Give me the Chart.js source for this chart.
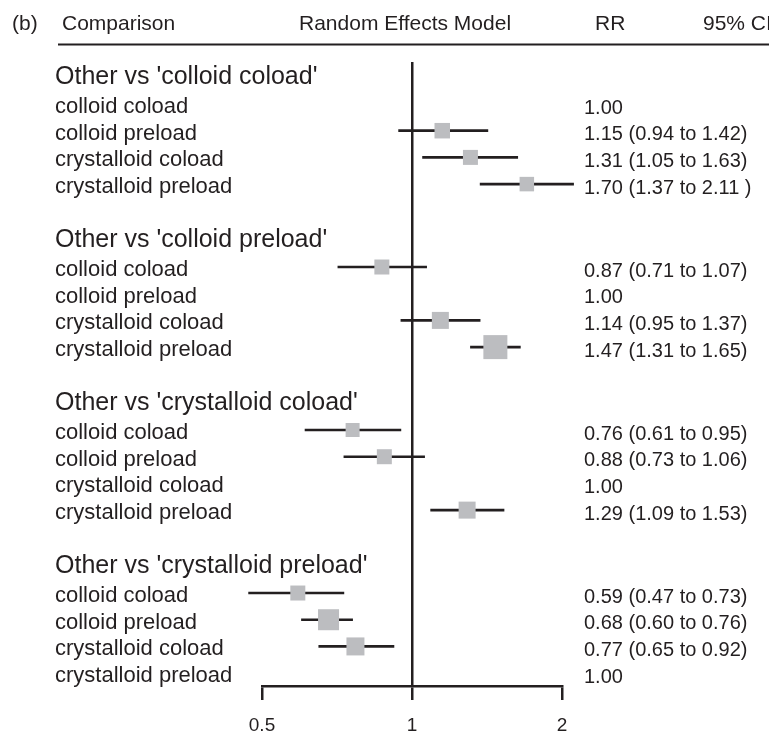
<!DOCTYPE html>
<html>
<head>
<meta charset="utf-8">
<script src="https://cdn.jsdelivr.net/npm/chart.js@4.4.1/dist/chart.umd.min.js"></script>
<style>
  html, body { margin: 0; padding: 0; background: #fff; }
  #wrap { width: 769px; height: 736px; position: relative; }
</style>
</head>
<body>
<div id="wrap"><canvas id="forest"></canvas></div>
<script>
// DATOS
const groups = ["Other vs 'colloid coload'", "Other vs 'colloid preload'",
                "Other vs 'crystalloid coload'", "Other vs 'crystalloid preload'"];
const treatments = ['colloid coload', 'colloid preload', 'crystalloid coload', 'crystalloid preload'];
const rr = [
  [1.00, 1.15, 1.31, 1.70],
  [0.87, 1.00, 1.14, 1.47],
  [0.76, 0.88, 1.00, 1.29],
  [0.59, 0.68, 0.77, 1.00]
];
const lower = [
  [null, 0.94, 1.05, 1.37],
  [0.71, null, 0.95, 1.31],
  [0.61, 0.73, null, 1.09],
  [0.47, 0.60, 0.65, null]
];
const upper = [
  [null, 1.42, 1.63, 2.11],
  [1.07, null, 1.37, 1.65],
  [0.95, 1.06, null, 1.53],
  [0.73, 0.76, 0.92, null]
];
// peso relativo de cada estudio (tamaño del cuadrado)
const weights = [
  [0, 15.5, 15, 14.5],
  [15, 0, 17, 24],
  [14, 15, 0, 17],
  [15, 21, 18, 0]
];
const ciText = [
  ['1.00', '1.15 (0.94 to 1.42)', '1.31 (1.05 to 1.63)', '1.70 (1.37 to 2.11 )'],
  ['0.87 (0.71 to 1.07)', '1.00', '1.14 (0.95 to 1.37)', '1.47 (1.31 to 1.65)'],
  ['0.76 (0.61 to 0.95)', '0.88 (0.73 to 1.06)', '1.00', '1.29 (1.09 to 1.53)'],
  ['0.59 (0.47 to 0.73)', '0.68 (0.60 to 0.76)', '0.77 (0.65 to 0.92)', '1.00']
];
const xTicks = [0.5, 1, 2];

// posición vertical (en filas)
const FIRST_ROW = 1.573;
const GROUP_GAP = 6.105;
const ROWS_MAX = 23.37;
const rowPos = (g, r) => FIRST_ROW + g * GROUP_GAP + r;

const INK = '#231f20';
const BOX = '#bcbdc0';
const FONT = "'Liberation Sans', Arial, sans-serif";

const ciData = [];
const pointData = [];
const pointRadius = [];
rr.forEach((row, g) => row.forEach((v, r) => {
  if (lower[g][r] === null) return;
  ciData.push({ x: [lower[g][r], upper[g][r]], y: rowPos(g, r) });
  pointData.push({ x: v, y: rowPos(g, r) });
  pointRadius.push(weights[g][r] / Math.SQRT2);
}));

// textos: cabecera, etiquetas y RR
const textPlugin = {
  id: 'forestText',
  afterDraw(chart) {
    const ctx = chart.ctx;
    const y = chart.scales.y;
    ctx.save();
    ctx.fillStyle = INK;
    ctx.textAlign = 'left';
    ctx.textBaseline = 'alphabetic';

    ctx.font = '21px ' + FONT;
    ctx.fillText('(b)', 12, 30);
    ctx.fillText('Comparison', 62, 30);
    ctx.fillText('Random Effects Model', 299, 30);
    ctx.fillText('RR', 595, 30);
    ctx.fillText('95% CI', 703, 30);

    ctx.strokeStyle = INK;
    ctx.lineWidth = 2;
    ctx.beginPath();
    ctx.moveTo(58, 44.5);
    ctx.lineTo(769, 44.5);
    ctx.stroke();

    groups.forEach((title, g) => {
      ctx.font = '25px ' + FONT;
      ctx.fillText(title, 55, y.getPixelForValue(rowPos(g, 0)) - 20);
      treatments.forEach((name, r) => {
        const py = y.getPixelForValue(rowPos(g, r));
        ctx.font = '22px ' + FONT;
        ctx.fillText(name, 55, py + 9);
        ctx.font = '20px ' + FONT;
        ctx.fillText(ciText[g][r], 584, py + 9.5);
      });
    });
    ctx.restore();
  }
};

new Chart(document.getElementById('forest'), {
  type: 'scatter',
  data: {
    datasets: [{
      type: 'bar',
      indexAxis: 'y',
      data: ciData,
      backgroundColor: INK,
      borderWidth: 0,
      barThickness: 2,
      grouped: false,
      clip: false,
      order: 1
    }, {
      type: 'scatter',
      data: pointData,
      pointStyle: 'rect',
      pointRadius: pointRadius,
      pointHoverRadius: pointRadius,
      backgroundColor: BOX,
      borderWidth: 0,
      clip: false,
      order: 0
    }]
  },
  options: {
    responsive: true,
    maintainAspectRatio: false,
    animation: false,
    layout: { padding: { left: 262, right: 207, top: 62, bottom: 0 } },
    plugins: { legend: { display: false }, tooltip: { enabled: false } },
    scales: {
      x: {
        type: 'logarithmic',
        min: 0.5,
        max: 2,
        afterBuildTicks: (scale) => { scale.ticks = xTicks.map(v => ({ value: v })); },
        afterFit: (scale) => { scale.height = 50; },
        ticks: {
          callback: (v) => String(v),
          color: INK,
          font: { family: FONT, size: 19 },
          padding: 14,
          maxRotation: 0,
          autoSkip: false
        },
        grid: {
          color: (c) => (c.tick && c.tick.value === 1 ? INK : 'rgba(0,0,0,0)'),
          tickColor: INK,
          lineWidth: 2.5,
          tickLength: 14
        },
        border: { display: true, color: INK, width: 2.5 }
      },
      y: {
        type: 'linear',
        display: false,
        reverse: true,
        offset: false,
        min: 0,
        max: ROWS_MAX
      }
    }
  },
  plugins: [textPlugin]
});
</script>
</body>
</html>
